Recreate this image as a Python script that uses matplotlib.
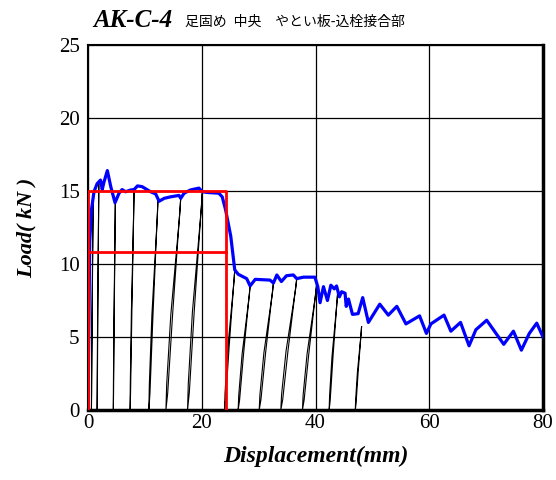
import numpy as np
import matplotlib
matplotlib.use("Agg")
import matplotlib.pyplot as plt

# envelope (skeleton) curve, displacement mm / load kN
env_x = [0.0, 0.3, 0.6, 1.05, 1.6, 2.2, 2.5, 2.8, 3.4, 4.0, 4.75, 5.45, 6.0, 6.6,
         7.5, 8.1, 8.7, 9.5, 11.0, 11.9, 12.5, 13.4, 14.5, 16.0, 16.3, 16.9, 18.0,
         19.5, 20.1, 21.0, 23.0, 23.6, 24.2, 25.1, 25.8, 26.4, 27.9, 28.5, 29.4,
         32.0, 32.6, 33.2, 34.0, 34.9, 36.1, 36.7, 37.9, 39.9, 40.4, 40.8, 41.4,
         42.1, 42.7, 43.3, 43.7, 44.2, 44.6, 45.2, 45.4, 45.8, 46.5, 47.5, 48.3,
         49.3, 51.3, 52.8, 54.3, 55.9, 58.3, 59.5, 60.3, 62.6, 63.8, 65.5, 67.0,
         68.2, 70.1, 73.1, 74.8, 76.2, 77.6, 78.9, 80.0]
env_y = [0.0, 11.5, 13.7, 14.95, 15.5, 15.75, 15.1, 15.6, 16.4, 15.3, 14.2, 14.85,
         15.1, 14.95, 15.07, 15.1, 15.35, 15.3, 14.95, 14.8, 14.3, 14.5, 14.6, 14.7,
         14.5, 14.85, 15.07, 15.2, 14.95, 14.9, 14.85, 14.6, 13.7, 11.9, 9.6, 9.3,
         9.0, 8.5, 8.95, 8.9, 8.7, 9.25, 8.8, 9.2, 9.25, 9.0, 9.1, 9.1, 8.45, 7.35,
         8.45, 7.5, 8.55, 8.3, 8.5, 7.75, 8.1, 8.0, 7.1, 7.6, 6.55, 6.6, 7.7, 6.0,
         7.25, 6.5, 7.1, 5.9, 6.45, 5.25, 5.9, 6.5, 5.4, 6.0, 4.4, 5.5, 6.15, 4.5,
         5.4, 4.1, 5.25, 5.95, 5.0]

# unloading/reloading cycles: residual displacement, peak displacement, peak load
cyc_res = [0.6, 1.6, 4.45, 7.4, 10.7, 13.7, 17.5, 24.0, 26.4, 30.1, 33.9, 37.7, 42.4, 47.0]
cyc_px = [0.9, 1.9, 4.8, 8.1, 12.3, 16.3, 20.1, 25.8, 28.5, 32.6, 36.7, 40.2, 43.9, 48.1]
cyc_py = [14.6, 15.6, 14.3, 15.1, 14.4, 14.5, 14.95, 9.6, 8.5, 8.7, 9.0, 8.6, 8.1, 5.7]

# evaluation lines
Pmax_line = 15.0
Py_line = 10.85
du_line = 24.2

xticks = [0, 20, 40, 60, 80]
yticks = [0, 5, 10, 15, 20, 25]

fig = plt.figure(figsize=(5.56, 4.8), dpi=100)
ax = fig.add_axes([0.1583, 0.1458, 0.8183, 0.7604])

serif = ["Liberation Serif", "DejaVu Serif"]

for r, px, py in zip(cyc_res, cyc_px, cyc_py):
    d = px - r
    lx = [px, r + 0.45 * d, r + 0.12 * d, r,
          r + 0.05 * d, r + 0.33 * d, px - 0.06 * d, px]
    ly = [py, 0.45 * py, 0.08 * py, 0.0,
          0.12 * py, 0.45 * py, 0.93 * py, py]
    ax.plot(lx, ly, color="black", lw=0.8, zorder=2)

ax.plot(env_x, env_y, color="#0000ff", lw=2.3, zorder=3, solid_joinstyle="round")

ax.plot([0, 0, du_line, du_line], [0, Pmax_line, Pmax_line, 0], color="red", lw=2.0, zorder=4)
ax.plot([0, du_line], [Py_line, Py_line], color="red", lw=2.0, zorder=4)

ax.set_xlim(0, 80)
ax.set_ylim(0, 25)
ax.set_xticks(xticks)
ax.set_yticks(yticks)
ax.set_xticklabels([str(v) for v in xticks], fontfamily=serif, fontsize=15)
ax.set_yticklabels([str(v) for v in yticks], fontfamily=serif, fontsize=15)
ax.tick_params(length=0, pad=3)
ax.tick_params(axis="y", pad=6)
ax.grid(True, color="black", lw=0.9)
ax.set_axisbelow(True)
for side in ["left", "top"]:
    ax.spines[side].set_linewidth(1.5)
for side in ["right", "bottom"]:
    ax.spines[side].set_linewidth(2.5)

ax.set_xlabel("Displacement(mm)", fontfamily=serif, fontsize=17,
              fontweight="bold", fontstyle="italic", labelpad=9)
ax.set_ylabel("Load( kN )", fontfamily=serif, fontsize=16,
              fontweight="bold", fontstyle="italic", labelpad=16)

fig.text(0.167, 0.944, "AK-C-4", fontfamily=serif, fontsize=18,
         fontweight="bold", fontstyle="italic", va="baseline")
fig.text(0.333, 0.947, "足固め\u2002中央　やとい板-込栓接合部",
         fontfamily=["Noto Sans CJK JP", "DejaVu Sans"], fontsize=10,
         fontstyle="italic", va="baseline")

fig.savefig("out.png", dpi=100)
